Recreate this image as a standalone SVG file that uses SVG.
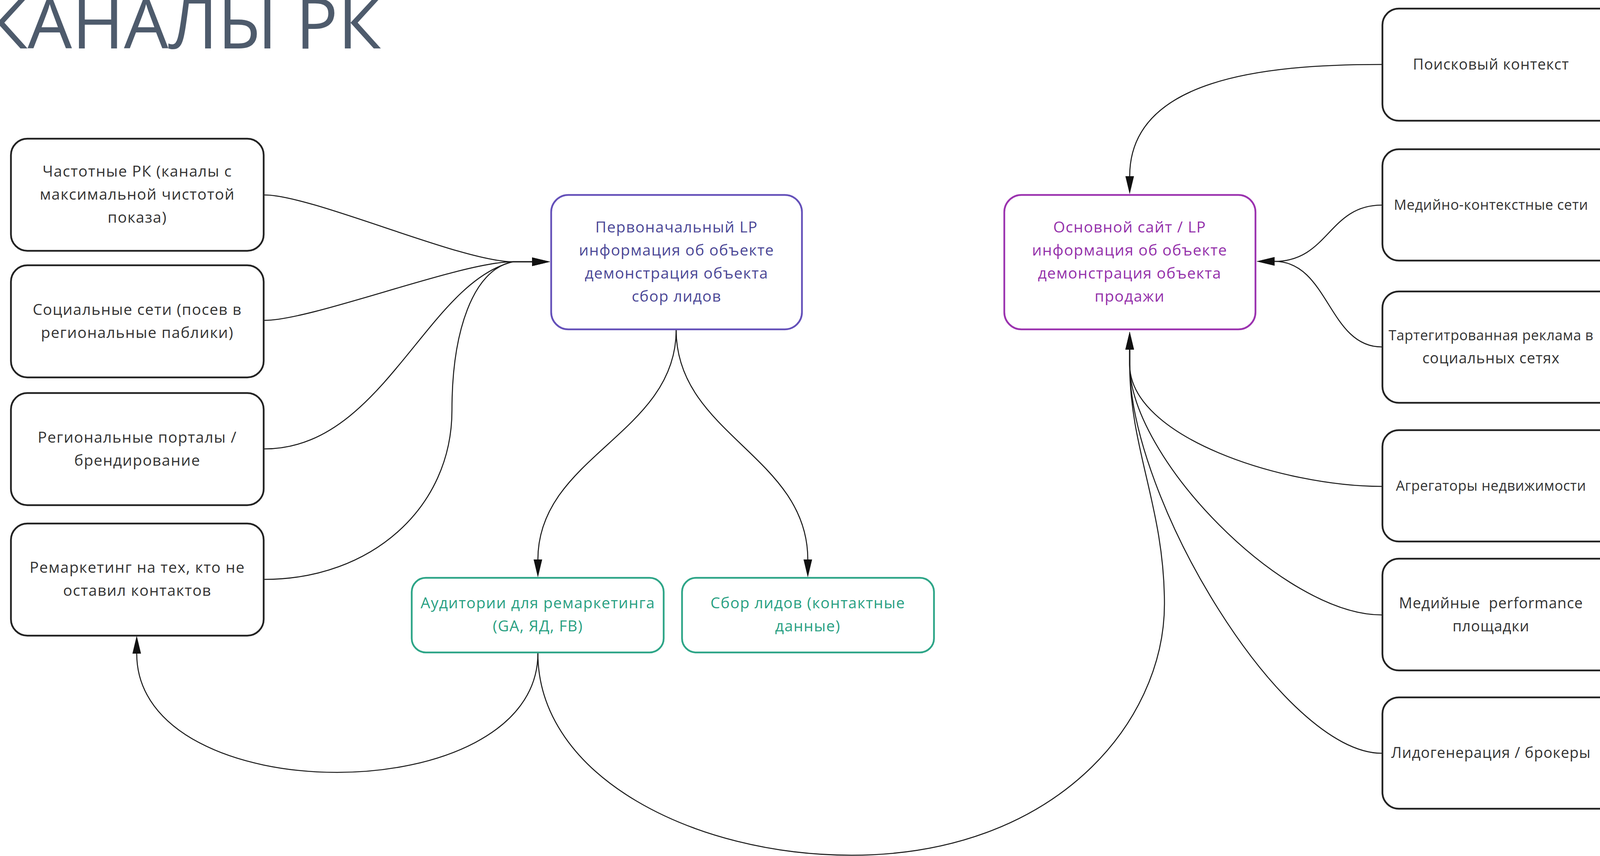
<svg xmlns="http://www.w3.org/2000/svg" width="4184" height="2191" viewBox="0 0 4184 2191">
<style>
.bg{fill:#ffffff}
.box{fill:#ffffff;stroke:#222222;stroke-width:4.5}
.lp1{fill:#ffffff;stroke:#6450B9;stroke-width:4.5}
.main{fill:#ffffff;stroke:#9B32AF;stroke-width:4.5}
.grn{fill:#ffffff;stroke:#2DA587;stroke-width:4.5}
text{font-family:"Open Sans","Noto Sans","DejaVu Sans",sans-serif;font-size:39px;letter-spacing:1.5px;text-anchor:middle}
.t{fill:#333333}
.tr{fill:#333333;font-size:38px;letter-spacing:1px}
.tr-s{font-size:36px;letter-spacing:0.5px}
.tlp1{fill:#4B4796}
.tmain{fill:#9430AA}
.tgrn{fill:#28A082}
.title{font-size:180px;letter-spacing:0;fill:#4E5B6C;text-anchor:end}
.con{fill:none;stroke:#1a1a1a;stroke-width:2.6;marker-end:url(#arr)}
</style>
<defs>
<marker id="arr" viewBox="0 0 46 22" markerWidth="46" markerHeight="22" refX="0" refY="11" markerUnits="userSpaceOnUse" orient="auto">
<path d="M0,0 L46,11 L0,22 z" fill="#111111"/>
</marker>
</defs>
<rect class="bg" x="0" y="0" width="4184" height="2191"/>
<text class="title" x="975" y="124">КАНАЛЫ РК</text>

<g id="connectors">
<path class="con" d="M677,499 C800,499 1180,670 1313,670 L1362,670"/>
<path class="con" d="M677,820 C800,820 1180,670 1313,670 L1362,670"/>
<path class="con" d="M677,1149 C980,1149 1090,725 1313,670 L1362,670"/>
<path class="con" d="M677,1483 C950,1483 1157,1300 1157,1050 C1157,850 1210,690 1313,670 L1362,670"/>
<path class="con" d="M1731,845 C1731,1111 1377,1168 1377,1432"/>
<path class="con" d="M1731,845 C1731,1111 2068,1168 2068,1432"/>
<path class="con" d="M1377,1672 C1377,2078 350,2079 350,1673"/>
<path class="con" d="M1377,1672 C1377,1990 1780,2189 2180,2189 C2700,2189 2981,1850 2981,1546 C2981,1300 2892,1150 2892,933 L2892,895"/>
<path class="con" d="M3537,165 C3236,165 2892,201 2892,451"/>
<path class="con" d="M3537,525 C3401,525 3401,669 3263,669"/>
<path class="con" d="M3537,888 C3401,888 3401,669 3263,669"/>
<path class="con" d="M3537,1245 C3285,1245 2892,1120 2892,933 L2892,895"/>
<path class="con" d="M3537,1574 C3285,1574 2892,1170 2892,933 L2892,895"/>
<path class="con" d="M3537,1928 C3285,1928 2892,1280 2892,933 L2892,895"/>
</g>

<g id="n-chastotnye">
<rect class="box" x="28" y="355" width="647" height="287" rx="42"/>
<text class="t" x="351.5" y="452">Частотные РК (каналы с</text>
<text class="t" x="351.5" y="511">максимальной чистотой</text>
<text class="t" x="351.5" y="570">показа)</text>
</g>
<g id="n-socseti">
<rect class="box" x="28" y="679" width="647" height="287" rx="42"/>
<text class="t" x="351.5" y="806">Социальные сети (посев в</text>
<text class="t" x="351.5" y="865">региональные паблики)</text>
</g>
<g id="n-portaly">
<rect class="box" x="28" y="1006" width="647" height="287" rx="42"/>
<text class="t" x="351.5" y="1133">Региональные порталы /</text>
<text class="t" x="351.5" y="1192">брендирование</text>
</g>
<g id="n-remarketing">
<rect class="box" x="28" y="1340" width="647" height="287" rx="42"/>
<text class="t" x="351.5" y="1466">Ремаркетинг на тех, кто не</text>
<text class="t" x="351.5" y="1525">оставил контактов</text>
</g>

<g id="n-lp1">
<rect class="lp1" x="1411" y="499" width="642" height="344" rx="44"/>
<text class="tlp1" x="1732" y="595">Первоначальный LP</text>
<text class="tlp1" x="1732" y="654">информация об объекте</text>
<text class="tlp1" x="1732" y="713">демонстрация объекта</text>
<text class="tlp1" x="1732" y="772">сбор лидов</text>
</g>
<g id="n-main">
<rect class="main" x="2571" y="499" width="643" height="344" rx="44"/>
<text class="tmain" x="2892" y="595">Основной сайт / LP</text>
<text class="tmain" x="2892" y="654">информация об объекте</text>
<text class="tmain" x="2892" y="713">демонстрация объекта</text>
<text class="tmain" x="2892" y="772">продажи</text>
</g>

<g id="n-auditorii">
<rect class="grn" x="1054" y="1479" width="645" height="191" rx="36"/>
<text class="tgrn" x="1377" y="1557">Аудитории для ремаркетинга</text>
<text class="tgrn" x="1377" y="1616">(GA, ЯД, FB)</text>
</g>
<g id="n-sbor">
<rect class="grn" x="1746" y="1479" width="645" height="191" rx="36"/>
<text class="tgrn" x="2068" y="1557">Сбор лидов (контактные</text>
<text class="tgrn" x="2068" y="1616">данные)</text>
</g>

<g id="n-poisk">
<rect class="box" x="3539" y="22" width="641" height="287" rx="42"/>
<text class="tr" x="3817" y="178">Поисковый контекст</text>
</g>
<g id="n-mediakontekst">
<rect class="box" x="3539" y="382" width="641" height="285" rx="42"/>
<text class="tr tr-s" x="3817" y="537">Медийно-контекстные сети</text>
</g>
<g id="n-target">
<rect class="box" x="3539" y="746" width="641" height="285" rx="42"/>
<text class="tr tr-s" x="3817" y="871">Тартегитрованная реклама в</text>
<text class="tr" x="3817" y="930">социальных сетях</text>
</g>
<g id="n-agregatory">
<rect class="box" x="3539" y="1101" width="641" height="285" rx="42"/>
<text class="tr tr-s" x="3817" y="1256">Агрегаторы недвижимости</text>
</g>
<g id="n-performance">
<rect class="box" x="3539" y="1430" width="641" height="286" rx="42"/>
<text class="tr" x="3817" y="1557" style="white-space:pre">Медийные  performance</text>
<text class="tr" x="3817" y="1616">площадки</text>
</g>
<g id="n-lidogen">
<rect class="box" x="3539" y="1785" width="641" height="285" rx="42"/>
<text class="tr" x="3817" y="1940">Лидогенерация / брокеры</text>
</g>
</svg>
